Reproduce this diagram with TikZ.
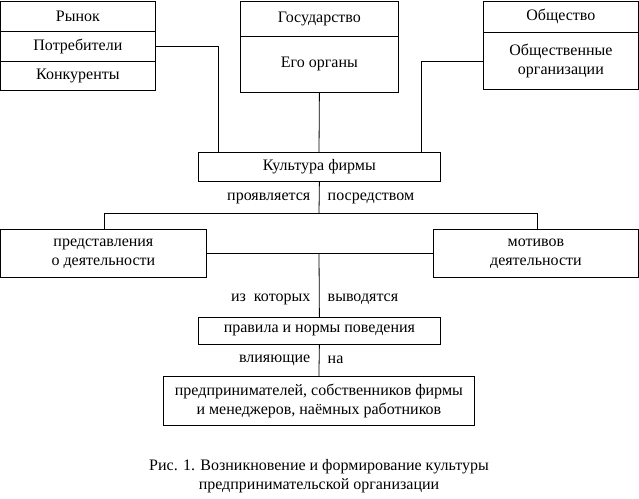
\documentclass[tikz,border=0pt]{standalone}
\usepackage{fontspec}
\setmainfont{Liberation Serif}
\begin{document}
\begin{tikzpicture}[x=1pt,y=-1pt,line width=0.8pt,
 bx/.style={draw,rectangle,anchor=north west,inner sep=0pt,align=center}]
\useasboundingbox (0,0) rectangle (639,498);
\tikzset{every node/.style={font=\fontsize{16}{19}\selectfont}}
% Рынок
\node[bx,minimum width=155,minimum height=30] (r1) at (0,1) {Рынок};
\node[bx,minimum width=155,minimum height=30] (r2) at (0,31) {Потребители};
\node[bx,minimum width=155,minimum height=29] (r3) at (0,61) {Конкуренты};
% Государство
\node[bx,minimum width=158,minimum height=35] (g1) at (240,1) {Государство};
\node[bx,minimum width=158,minimum height=56] (g2) at (240,36) {Его органы};
% Общество
\node[bx,minimum width=155,minimum height=31] (o1) at (483,1) {Общество};
\node[bx,minimum width=155,minimum height=57] (o2) at (483,32) {Общественные\\организации};
% Культура
\node[bx,minimum width=242,minimum height=29] (k) at (198,152) {Культура фирмы};
\draw (r2.east) -| (218,152);
\draw (g2.south) -- (319,152);
\draw (o2.west) -| (421,152);
\coordinate (hj) at (319,213);
\draw (k.south) -- (hj);
\draw (104,229) |- (537,213) -- (537,229);
\node[anchor=east] (t1) at (314,198) {проявляется};
\node[anchor=west] (t2) at (324,198) {посредством};
\node[bx,minimum width=206,minimum height=48] (L) at (0,229) {представления\\о деятельности};
\node[bx,minimum width=205,minimum height=48] (R) at (433,229) {мотивов\\деятельности};
\draw (L.east) -- (R.west);
\node[bx,minimum width=242,minimum height=27] (p) at (198,317) {правила и нормы поведения};
\draw (319,253) -- (p.north);
\node[anchor=east] (t3) at (314,299) {из \ которых};
\node[anchor=west] (t4) at (324,299) {выводятся};
\node[bx,minimum width=311,minimum height=49] (b) at (163,376) {предпринимателей, собственников фирмы\\и менеджеров, наёмных работников};
\draw (p.south) -- (b.north);
\node[anchor=east] (t5) at (314,360) {влияющие};
\node[anchor=west] (t6) at (324,360) {на};
\node[align=center] (cap) at (319,476) {Рис. 1. Возникновение и формирование культуры\\предпринимательской организации};
\end{tikzpicture}
\end{document}
